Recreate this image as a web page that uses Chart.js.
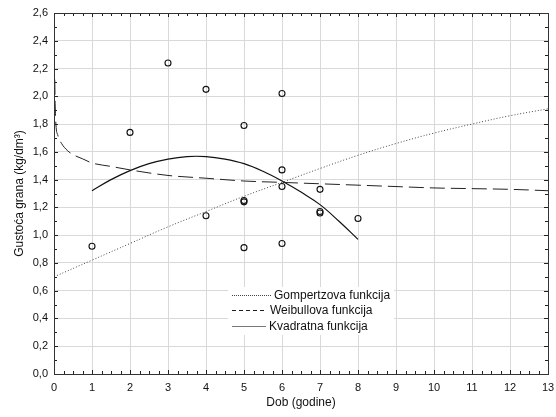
<!DOCTYPE html>
<html>
<head>
<meta charset="utf-8">
<script src="https://cdn.jsdelivr.net/npm/chart.js@4.4.0/dist/chart.umd.min.js"></script>
<style>
  html, body { margin: 0; padding: 0; background: #fff; }
  #wrap { width: 556px; height: 417px; }
</style>
</head>
<body>
<div id="wrap"><canvas id="gustoca"></canvas></div>
<script>
// izmjerene tocke (dob, gustoca)
const dobX = [1, 2, 3, 4, 4, 5, 5, 5, 5, 6, 6, 6, 6, 7, 7, 7, 8];
const gustocaY = [0.92, 1.74, 2.24, 2.05, 1.14, 1.79, 1.25, 1.24, 0.91, 2.02, 1.47, 1.35, 0.94, 1.33, 1.16, 1.17, 1.12];

// Gompertzova funkcija
const gompX = [0, 1, 2, 3, 4, 5, 6, 7, 8, 9, 10, 11, 12, 13];
const gompY = [0.70, 0.82, 0.94, 1.06, 1.17, 1.28, 1.38, 1.48, 1.575, 1.66, 1.735, 1.80, 1.86, 1.91];

// Weibullova funkcija
const weibX = [0.02, 0.03, 0.05, 0.1, 0.2, 0.35, 0.5, 0.75, 1, 1.5, 2, 3, 4, 5, 6, 7, 8, 9, 10, 11, 12, 13];
const weibY = [2.12, 1.95, 1.80, 1.72, 1.66, 1.61, 1.58, 1.55, 1.52, 1.495, 1.47, 1.43, 1.41, 1.39, 1.38, 1.37, 1.36, 1.35, 1.34, 1.335, 1.33, 1.32];

// Kvadratna funkcija
const kvadX = [1, 1.5, 2, 2.5, 3, 3.5, 4, 4.5, 5, 5.5, 6, 6.5, 7, 7.5, 8];
const kvadY = [1.32, 1.40, 1.465, 1.515, 1.548, 1.566, 1.566, 1.548, 1.515, 1.46, 1.39, 1.31, 1.22, 1.10, 0.97];

const legendNames = ['Gompertzova funkcija', 'Weibullova funkcija', 'Kvadratna funkcija'];
const legendDash = [[1, 1], [4, 3], []];
const legendTextX = [274, 270, 269];
const legendRowY = [295, 310, 326];

function pts(xs, ys) {
    return xs.map(function(x, i) { return { x: x, y: ys[i] }; });
}

const FONT = 'Arial, "Liberation Sans", sans-serif';

// okvir, unutarnje crtice i legenda
const frameAndLegend = {
    id: 'frameAndLegend',
    afterDraw(chart) {
        const ctx = chart.ctx;
        const a = chart.chartArea;
        const sx = chart.scales.x, sy = chart.scales.y;
        ctx.save();
        ctx.strokeStyle = '#222';
        ctx.lineWidth = 1;
        ctx.beginPath();
        for (let v = 0; v <= 13.001; v += 0.25) {
            const px = Math.round(sx.getPixelForValue(v)) + 0.5;
            const len = Math.abs(v - Math.round(v)) < 0.01 ? 4 : 3;
            ctx.moveTo(px, a.bottom); ctx.lineTo(px, a.bottom - len);
            ctx.moveTo(px, a.top); ctx.lineTo(px, a.top + len);
        }
        for (let v = 0; v <= 2.6001; v += 0.1) {
            const py = Math.round(sy.getPixelForValue(v)) + 0.5;
            const len = Math.abs(v * 5 - Math.round(v * 5)) < 0.01 ? 4 : 3;
            ctx.moveTo(a.left, py); ctx.lineTo(a.left + len, py);
            ctx.moveTo(a.right, py); ctx.lineTo(a.right - len, py);
        }
        ctx.stroke();
        ctx.strokeStyle = '#333';
        ctx.strokeRect(Math.round(a.left) + 0.5, Math.round(a.top) + 0.5,
                       Math.round(a.right - a.left), Math.round(a.bottom - a.top));

        // legenda
        const lx = 232;
        ctx.fillStyle = '#fff';
        ctx.fillRect(lx - 4, 287, 166, 48);
        ctx.font = '12px ' + FONT;
        ctx.textBaseline = 'middle';
        for (let i = 0; i < 3; i++) {
            const ds = chart.data.datasets[i + 1];
            const y = legendRowY[i] + 0.5;
            ctx.strokeStyle = i === 2 ? '#777' : ds.borderColor;
            ctx.lineWidth = 1;
            ctx.setLineDash(legendDash[i]);
            ctx.beginPath();
            ctx.moveTo(lx, y); ctx.lineTo(legendTextX[i] - 3, y);
            ctx.stroke();
            ctx.setLineDash([]);
            ctx.fillStyle = '#111';
            ctx.fillText(legendNames[i], legendTextX[i], y);
        }
        ctx.restore();
    }
};

new Chart(document.getElementById('gustoca'), {
    type: 'scatter',
    data: {
        datasets: [
            {
                label: 'Gustoća',
                data: pts(dobX, gustocaY),
                pointStyle: 'circle',
                pointRadius: 3,
                pointBorderWidth: 1.1,
                borderColor: '#111',
                backgroundColor: 'rgba(255,255,255,0)',
                showLine: false,
                order: 0
            },
            {
                label: legendNames[0],
                data: pts(gompX, gompY),
                showLine: true,
                pointRadius: 0,
                borderColor: '#444',
                borderWidth: 1,
                borderDash: [1, 2],
                tension: 0.4,
                order: 1
            },
            {
                label: legendNames[1],
                data: pts(weibX, weibY),
                showLine: true,
                pointRadius: 0,
                borderColor: '#222',
                borderWidth: 1,
                borderDash: [15, 6],
                cubicInterpolationMode: 'monotone',
                order: 1
            },
            {
                label: legendNames[2],
                data: pts(kvadX, kvadY),
                showLine: true,
                pointRadius: 0,
                borderColor: '#111',
                borderWidth: 1.2,
                tension: 0.4,
                order: 1
            }
        ]
    },
    options: {
        responsive: true,
        maintainAspectRatio: false,
        animation: false,
        layout: { padding: { left: 0, right: 8, top: 13, bottom: 0 } },
        plugins: {
            legend: { display: false },
            tooltip: { enabled: false }
        },
        scales: {
            x: {
                type: 'linear',
                min: 0,
                max: 13,
                afterFit: function(s) { s.height = 43; s.paddingLeft = 0; s.paddingRight = 0; },
                border: { display: false },
                grid: { color: '#d9d9d9', lineWidth: 1, drawTicks: false },
                ticks: {
                    stepSize: 1,
                    padding: 7,
                    color: '#111',
                    font: { family: FONT, size: 11 }
                },
                title: {
                    display: true,
                    text: 'Dob (godine)',
                    color: '#111',
                    font: { family: FONT, size: 12 },
                    padding: { top: 4, bottom: 7 }
                }
            },
            y: {
                type: 'linear',
                min: 0,
                max: 2.6,
                afterFit: function(s) { s.width = 54; s.paddingTop = 0; s.paddingBottom = 0; },
                border: { display: false },
                grid: { color: '#d9d9d9', lineWidth: 1, drawTicks: false },
                ticks: {
                    stepSize: 0.2,
                    padding: 6,
                    color: '#111',
                    font: { family: FONT, size: 11 },
                    callback: function(v) { return v.toFixed(1).replace('.', ','); }
                },
                title: {
                    display: true,
                    text: 'Gustoća grana (kg/dm³)',
                    color: '#111',
                    font: { family: FONT, size: 12 },
                    padding: { top: 12, bottom: 0 }
                }
            }
        }
    },
    plugins: [frameAndLegend]
});
</script>
</body>
</html>
